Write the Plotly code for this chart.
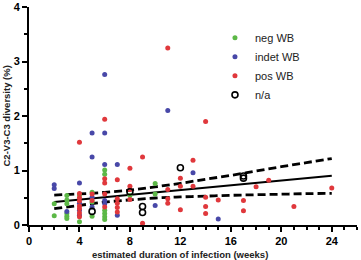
import plotly.graph_objects as go

# ---- data ----
neg_x = [2, 2, 3, 3, 3, 3, 3, 3, 4, 4, 5, 5, 5, 6, 6, 6, 6, 6, 6, 8, 10, 10]
neg_y = [0.39, 0.17, 0.54, 0.46, 0.39, 0.21, 0.16, 0.12, 0.55, 0.06, 0.42, 0.16, 0.60,
         1.01, 0.93, 0.27, 0.21, 0.15, 0.10, 0.54, 0.76, 0.57]

indet_x = [2, 2, 3, 4, 4, 4, 4, 5, 5, 5, 5, 6, 6, 6, 6, 6, 7, 7, 10, 11, 13, 15]
indet_y = [0.74, 0.67, 0.25, 0.77, 0.40, 0.27, 0.18, 1.69, 1.25, 0.51, 0.33,
           2.76, 1.69, 1.11, 0.45, 0.39, 1.11, 0.18, 0.36, 2.10, 0.96, 0.11]

pos_x = [4, 4, 4, 4, 4, 4, 4, 4, 5, 5, 6, 6, 6, 6, 6, 7, 7, 7, 7, 7, 8, 8, 8, 8,
         9, 9, 11, 11, 11, 11, 12, 12, 12, 13, 13, 14, 14, 14, 14, 15, 17, 17, 18, 19, 21, 24]
pos_y = [1.52, 0.58, 0.50, 0.44, 0.35, 0.30, 0.22, 0.15, 0.57, 0.45,
         1.94, 0.85, 0.77, 0.57, 0.33, 0.83, 0.48, 0.40, 0.32, 0.24,
         1.04, 0.71, 0.65, 0.47, 1.25, 0.03, 3.25, 0.65, 0.48, 0.40,
         0.86, 0.71, 0.28, 1.19, 0.71, 1.90, 0.51, 0.34, 0.21, 0.46,
         0.45, 0.26, 0.70, 0.82, 0.34, 0.68]

na_x = [5, 8, 9, 9, 12, 17, 17]
na_y = [0.25, 0.61, 0.34, 0.23, 1.05, 0.86, 0.90]

fit_x = [2, 24]
fit_y = [0.42, 0.905]

band_x = [2, 4, 6, 8, 10, 12, 14, 16, 18, 20, 22, 24]
band_upper = [0.55, 0.57, 0.60, 0.64, 0.70, 0.765, 0.84, 0.91, 0.99, 1.07, 1.145, 1.22]
band_lower = [0.30, 0.36, 0.42, 0.46, 0.495, 0.515, 0.53, 0.545, 0.555, 0.565, 0.575, 0.58]

x_ticks = [0, 4, 8, 12, 16, 20, 24]
y_ticks = [0, 1, 2, 3, 4]

FONT = "Arial, Liberation Sans, Helvetica, sans-serif"
GREEN = "#5cb847"
BLUE = "#4848a8"
RED = "#e0383c"

fig = go.Figure()

fig.add_trace(go.Scatter(x=fit_x, y=fit_y, mode="lines", line=dict(color="black", width=2),
                         showlegend=False, hoverinfo="skip"))
fig.add_trace(go.Scatter(x=band_x, y=band_upper, mode="lines",
                         line=dict(color="black", width=2.8, dash="8px,4px", shape="spline"),
                         showlegend=False, hoverinfo="skip"))
fig.add_trace(go.Scatter(x=band_x, y=band_lower, mode="lines",
                         line=dict(color="black", width=2.8, dash="8px,4px", shape="spline"),
                         showlegend=False, hoverinfo="skip"))

fig.add_trace(go.Scatter(x=neg_x, y=neg_y, mode="markers", name="neg WB",
                         marker=dict(color=GREEN, size=5, line=dict(width=0))))
fig.add_trace(go.Scatter(x=indet_x, y=indet_y, mode="markers", name="indet WB",
                         marker=dict(color=BLUE, size=5, line=dict(width=0))))
fig.add_trace(go.Scatter(x=pos_x, y=pos_y, mode="markers", name="pos WB",
                         marker=dict(color=RED, size=5, line=dict(width=0))))
fig.add_trace(go.Scatter(x=na_x, y=na_y, mode="markers", name="n/a",
                         marker=dict(symbol="circle-open", color="black", size=6,
                                     line=dict(width=1.6, color="black"))))

fig.update_layout(
    width=361, height=260,
    margin=dict(l=29, r=4, t=1, b=35),
    paper_bgcolor="white", plot_bgcolor="white",
    font=dict(family=FONT, color="black"),
    legend=dict(x=0.567, y=0.925, xanchor="left", yanchor="top",
                font=dict(size=11, family=FONT, color="#222222"),
                bgcolor="rgba(0,0,0,0)", itemwidth=30, tracegroupgap=0),
    xaxis=dict(range=[0, 26], tickvals=x_ticks, ticktext=[f"<b>{v}</b>" for v in x_ticks],
               showgrid=False, zeroline=False, showline=True, linecolor="black", linewidth=2,
               ticks="outside", ticklen=5, tickwidth=2, tickcolor="black",
               tickfont=dict(size=11, family=FONT),
               minor=dict(dtick=1, ticks="outside", ticklen=3, tickwidth=1.5, tickcolor="black")),
    yaxis=dict(range=[0, 4.0], tickvals=y_ticks, ticktext=[f"<b>{v}</b>" for v in y_ticks],
               showgrid=False, zeroline=False, showline=True, linecolor="black", linewidth=2,
               ticks="outside", ticklen=5, tickwidth=2, tickcolor="black",
               ticklabeloverflow="allow",
               tickfont=dict(size=11, family=FONT),
               minor=dict(dtick=0.5, ticks="outside", ticklen=3, tickwidth=1.5, tickcolor="black")),
    annotations=[
        dict(text="<b>estimated duration of infection (weeks)</b>", x=12, xref="x",
             y=0, yref="paper", yshift=-29, yanchor="middle", showarrow=False,
             font=dict(size=9.5, family=FONT, color="#222222")),
        dict(text="<b>C2-V3-C3 diversity (%)</b>", x=0, xref="paper", xanchor="right",
             xshift=-16, y=0.5, yref="paper", yanchor="middle", textangle=-90, showarrow=False,
             font=dict(size=9.5, family=FONT, color="#222222")),
    ],
)

fig.write_html("out.html")
